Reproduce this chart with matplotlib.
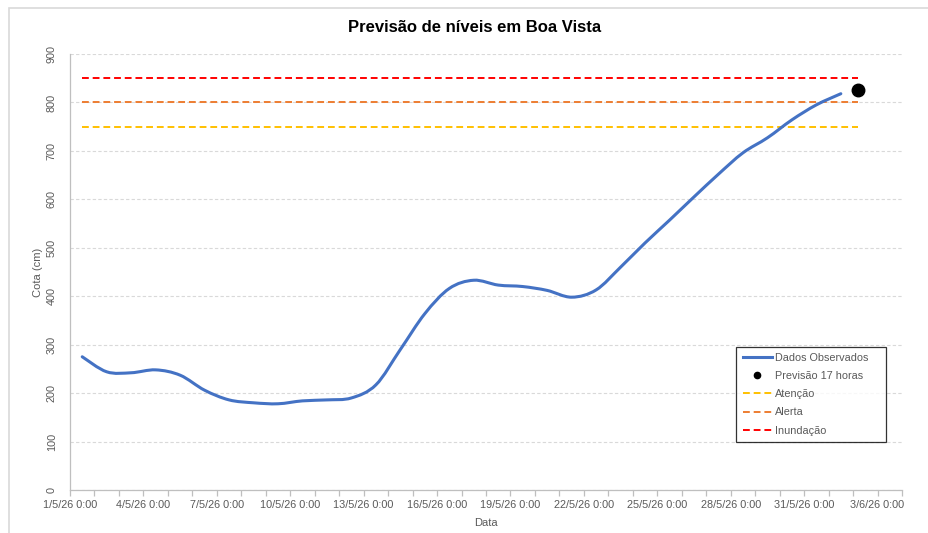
import datetime as dt

import matplotlib
matplotlib.use("Agg")
import matplotlib.pyplot as plt
import matplotlib.dates as mdates
from matplotlib.path import Path
from matplotlib.patches import PathPatch, Rectangle
from matplotlib.lines import Line2D
from matplotlib.ticker import FuncFormatter, MultipleLocator, FixedLocator

plt.rcParams['font.family'] = ['Liberation Sans', 'DejaVu Sans']

# dados observados (cota em cm), uma leitura por dia as 12:00
obs_start = dt.datetime(2026, 5, 1, 12, 0)
obs_cota = [275, 244, 242, 248, 237, 206, 186, 180, 178, 184, 186,
            190, 217, 290, 364, 416, 433, 423, 420, 412, 398, 413,
            460, 510, 557, 605, 652, 696, 727, 764, 795, 818]
obs_dates = [obs_start + dt.timedelta(days=i) for i in range(len(obs_cota))]

# previsao para 17 horas depois da ultima leitura
prev_date = obs_dates[-1] + dt.timedelta(hours=17)
prev_cota = 825

# cotas de referencia
cota_atencao = 750
cota_alerta = 800
cota_inundacao = 850

xmin = dt.datetime(2026, 5, 1)
xmax = dt.datetime(2026, 6, 4)
tick_days = [xmin + dt.timedelta(days=k) for k in range(35)]
label_days = tick_days[::3]

blue = '#4472C4'
grey = '#595959'


def smooth_path(xs, ys):
    # curva suavizada como no Excel (bezier tipo catmull-rom)
    n = len(xs)
    verts = [(xs[0], ys[0])]
    codes = [Path.MOVETO]
    for i in range(n - 1):
        x0, y0 = (xs[i - 1], ys[i - 1]) if i > 0 else (xs[i], ys[i])
        x3, y3 = (xs[i + 2], ys[i + 2]) if i + 2 < n else (xs[i + 1], ys[i + 1])
        c1 = (xs[i] + (xs[i + 1] - x0) / 6, ys[i] + (ys[i + 1] - y0) / 6)
        c2 = (xs[i + 1] - (x3 - xs[i]) / 6, ys[i + 1] - (y3 - ys[i]) / 6)
        verts += [c1, c2, (xs[i + 1], ys[i + 1])]
        codes += [Path.CURVE4] * 3
    return Path(verts, codes)


fig = plt.figure(figsize=(9.29, 5.33), dpi=100)
ax = fig.add_axes([70 / 929, 1 - 490 / 533, 832 / 929, 436 / 533])

xnum = mdates.date2num(obs_dates)
ax.add_patch(PathPatch(smooth_path(list(xnum), obs_cota), facecolor='none',
                       edgecolor=blue, lw=2.2, capstyle='round', zorder=3))

line_x = [obs_dates[0], prev_date]
dash = (3.5, 2)
ax.plot(line_x, [cota_atencao] * 2, color='#FFC000', lw=1.4, dashes=dash, zorder=2)
ax.plot(line_x, [cota_alerta] * 2, color='#ED7D31', lw=1.4, dashes=dash, zorder=2)
ax.plot(line_x, [cota_inundacao] * 2, color='#FF0000', lw=1.4, dashes=dash, zorder=2)
ax.plot([prev_date], [prev_cota], 'o', color='black', ms=9, zorder=4)

ax.set_xlim(xmin, xmax)
ax.set_ylim(0, 900)
ax.yaxis.set_major_locator(MultipleLocator(100))
ax.xaxis.set_major_locator(FixedLocator(mdates.date2num(label_days)))
ax.xaxis.set_minor_locator(FixedLocator(mdates.date2num(tick_days)))


def fmt_date(v, pos):
    d = mdates.num2date(v)
    return f"{d.day}/{d.month}/{d.strftime('%y')} {d.hour}:{d.minute:02d}"


ax.xaxis.set_major_formatter(FuncFormatter(fmt_date))

ax.grid(axis='y', color='#D9D9D9', ls=(0, (3, 2)), lw=0.8)
ax.set_axisbelow(True)
for s in ['top', 'right']:
    ax.spines[s].set_visible(False)
for s in ['left', 'bottom']:
    ax.spines[s].set_color('#BFBFBF')
    ax.spines[s].set_linewidth(0.9)
ax.tick_params(axis='x', which='both', colors='#BFBFBF', labelcolor=grey, labelsize=7.8,
               length=4, width=0.9, pad=3)
ax.tick_params(axis='y', colors='#BFBFBF', labelcolor=grey, labelsize=7.8, length=0, pad=13)
for lbl in ax.get_yticklabels():
    lbl.set_rotation(90)
    lbl.set_va('center')
    lbl.set_ha('center')

ax.set_xlabel('Data', color=grey, fontsize=8, labelpad=6)
ax.set_ylabel('Cota (cm)', color=grey, fontsize=8, labelpad=3)

fig.text(475 / 929, 1 - 28 / 533, 'Previsão de níveis em Boa Vista', ha='center', va='center',
         fontsize=12, fontweight='bold')

handles = [
    Line2D([], [], color=blue, lw=2.2),
    Line2D([], [], ls='none', marker='o', color='black', ms=4.5),
    Line2D([], [], color='#FFC000', lw=1.4, dashes=dash),
    Line2D([], [], color='#ED7D31', lw=1.4, dashes=dash),
    Line2D([], [], color='#FF0000', lw=1.4, dashes=dash),
]
labels = ['Dados Observados', 'Previsão 17 horas', 'Atenção', 'Alerta', 'Inundação']
leg = ax.legend(handles, labels, loc='lower left', bbox_to_anchor=(0.8005, 0.11, 0.18, 0.215),
                mode='expand', borderaxespad=0, fontsize=7.8, frameon=True, fancybox=False,
                handlelength=2.7, labelspacing=0.75, borderpad=0.6, handletextpad=0.3,
                labelcolor=grey)
leg.get_frame().set_edgecolor('black')
leg.get_frame().set_linewidth(0.9)

# borda da area do grafico
fig.patches.append(Rectangle((9 / 929, -0.1), 1.2, 1 - 8 / 533 + 0.1, transform=fig.transFigure,
                             fill=False, edgecolor='#D9D9D9', lw=1.2))

fig.savefig('out.png', dpi=100)
